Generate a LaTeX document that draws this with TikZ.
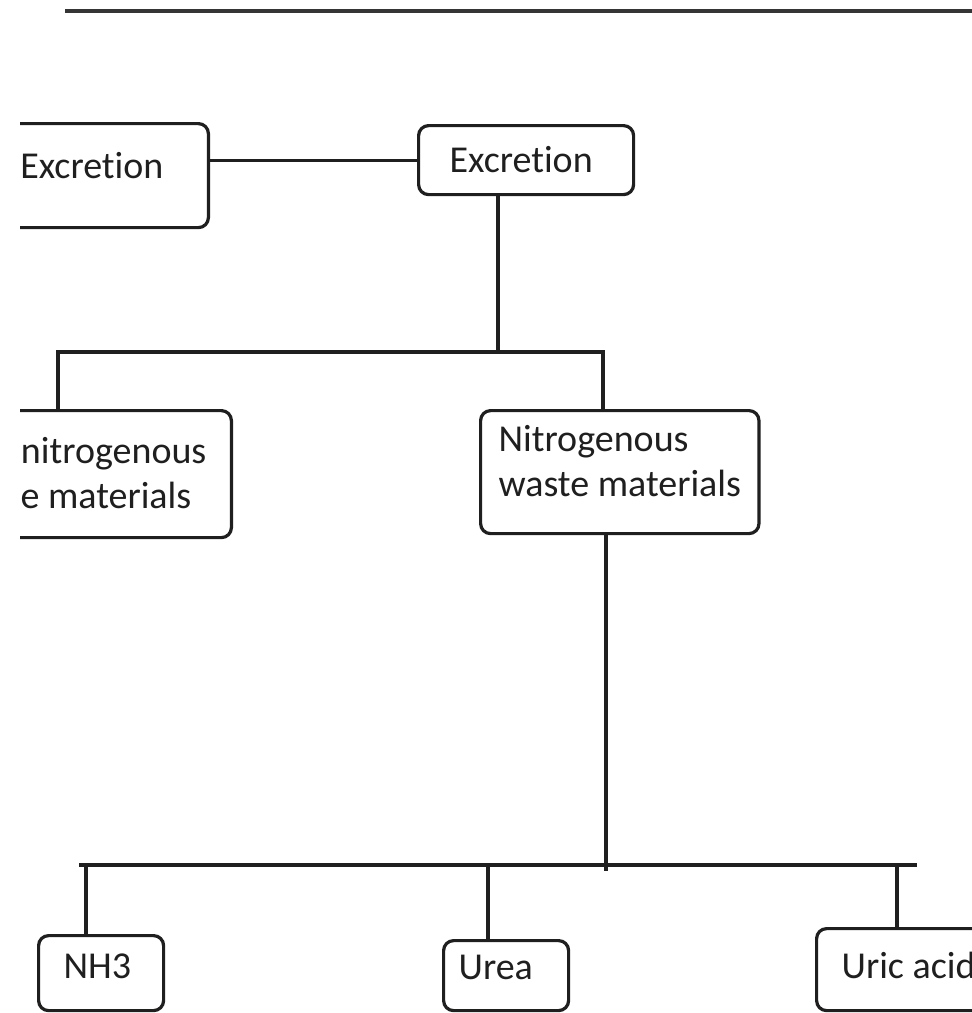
\documentclass[tikz,border=0pt]{standalone}
\usepackage{fontspec}
\newfontfamily\calib{Carlito}[Ligatures={NoCommon}]
\usetikzlibrary{positioning}
\definecolor{ink}{HTML}{1F1F1F}

\begin{document}
\begin{tikzpicture}[
    x=1pt, y=-1pt,
    box/.style={draw=ink, text=ink, line width=3.2pt, rounded corners=10pt, inner ysep=0pt, align=left, font={\calib\fontsize{38}{45}\selectfont}},
    link/.style={draw=ink, line width=3.2pt},
    rule/.style={draw=ink!90, line width=4pt}
]
\useasboundingbox (0,0) rectangle (972,1013);
\clip (20,0) rectangle (972,1013);

% rule at the top of the page
\coordinate (r0) at (65,11);
\coordinate (r1) at (972,11);
\draw[rule] (r0) -- (r1);

% first level
\node[box, anchor=north east, inner xsep=45pt, text height=55pt, text depth=49pt] (exc0) at (210,122) {Excretion};
\node[box, anchor=north west, inner xsep=31pt, text width=153pt, text height=47pt, text depth=22pt] (exc) at (417,124) {Excretion};

% second level
\node[box, anchor=north east, inner xsep=25pt, text height=98pt, text depth=29pt] (nonnit) at (233,409) {Non-nitrogenous\\\hskip4pt waste materials};
\node[box, anchor=north west, inner xsep=18pt, text height=86pt, text depth=37pt] (nit) at (479,409) {Nitrogenous\\waste materials};

% third level
\node[box, anchor=north west, inner xsep=25pt, text width=75pt, text height=43pt, text depth=32pt] (nh3) at (37,934) {NH3};
\node[box, anchor=north west, inner xsep=15pt, text width=95pt, text height=39pt, text depth=31pt] (urea) at (442,939) {Urea};
\node[box, anchor=north west, inner xsep=25pt, text height=50pt, text depth=32pt] (uric) at (815,927) {Uric acid};

% link between the two top boxes
\draw[link] (exc.west) -- (exc.west -| exc0.east);

% branch to second level
\coordinate (t1) at (498,352);
\coordinate (b1w) at (58,352);
\coordinate (b1e) at (603,352);
\draw[link] (exc.south -| t1) -- (t1);
\draw[link] (nonnit.north -| b1w) -- (b1w) -- (b1e) -- (nit.north -| b1e);

% branch to third level
\coordinate (t2) at (606,871);
\coordinate (b2w) at (79,865);
\coordinate (b2e) at (917,865);
\coordinate (d1) at (86,865);
\coordinate (d2) at (488,865);
\coordinate (d3) at (897,865);
\draw[link] (nit.south -| t2) -- (t2);
\draw[link] (b2w) -- (b2e);
\draw[link] (d1) -- (d1 |- nh3.north);
\draw[link] (d2) -- (d2 |- urea.north);
\draw[link] (d3) -- (d3 |- uric.north);

\end{tikzpicture}
\end{document}
